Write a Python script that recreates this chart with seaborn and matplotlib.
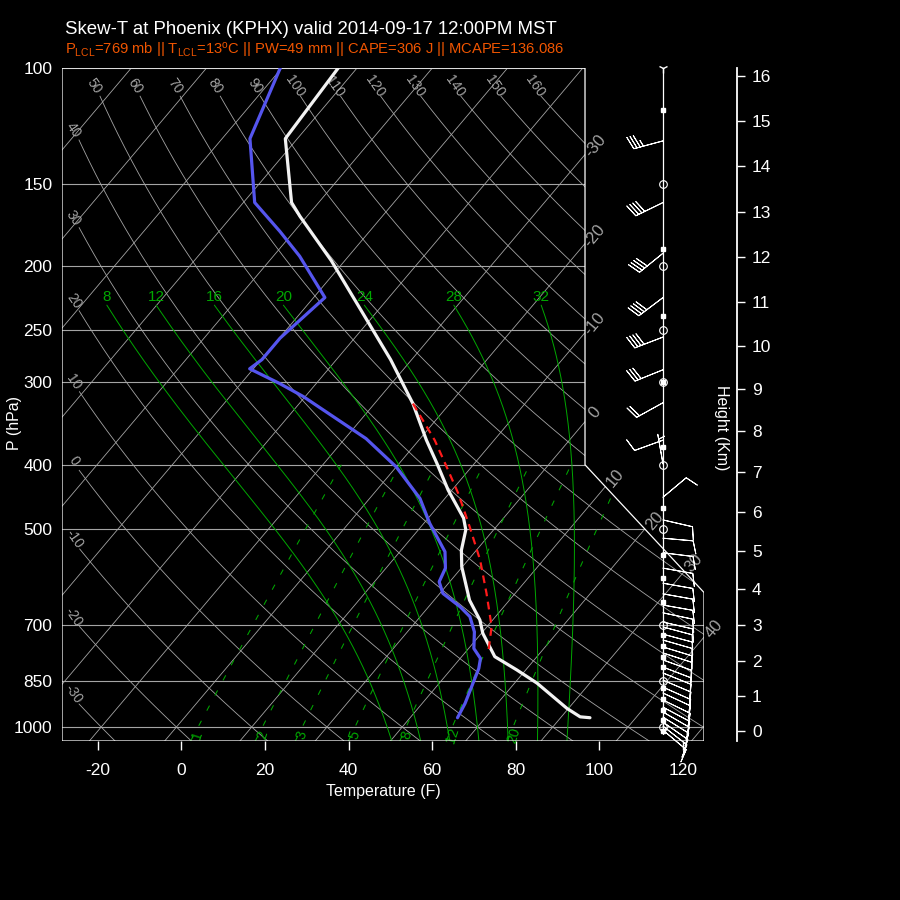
import numpy as np
import pandas as pd
import matplotlib
matplotlib.use("Agg")
import matplotlib.pyplot as plt
from matplotlib.patches import Polygon
from matplotlib.path import Path
from matplotlib.ticker import NullLocator
import seaborn as sns

# --- sounding (hPa / deg C) ---
temp_p = [100, 128, 160, 168, 196, 277, 323, 367, 398, 437, 482, 502, 539, 571,
          642, 688, 721, 782, 819, 858, 937, 965, 968]
temp_c = [-72.5, -71.6, -63.6, -60.9, -51.8, -32.8, -24.9, -19.0, -15.0, -10.5, -5.3,
          -3.7, -2.0, -0.1, 4.7, 8.3, 10.2, 14.4, 18.8, 23.0, 29.8, 32.5, 33.9]

dew_p = [100, 128, 160, 177, 193, 223, 257, 277, 286, 301, 315, 365, 403, 450, 491,
         542, 574, 602, 627, 657, 680, 717, 760, 787, 815, 869, 921, 968]
dew_c = [-80.2, -76.3, -68.5, -61.9, -56.5, -48.5, -49.9, -49.9, -50.5, -44.9, -40.3,
         -27.2, -20.0, -13.3, -9.2, -4.0, -2.1, -1.4, 0.4, 4.2, 6.6, 8.9, 10.7, 12.7,
         13.6, 14.7, 15.7, 16.3]

parcel_p = [323, 367, 403, 442, 497, 558, 627, 704, 769]
parcel_c = [-24.9, -17.9, -13.3, -8.8, -3.5, 1.6, 6.2, 10.6, 13.0]

# --- winds on the right-hand column (hPa, deg, kt) ---
wind_p = [129, 160, 191, 223, 256, 287, 322, 367, 399, 448, 485, 517, 544, 574, 605,
          628, 653, 671, 693, 705, 723, 738, 756, 772, 791, 811, 828, 849, 870, 888,
          910, 933, 949, 966, 983, 997, 1011]
wind_dir = [255, 244, 231, 233, 249, 248, 241, 250, 350, 50, 103, 95, 97, 100, 100,
            100, 100, 102, 103, 105, 105, 106, 107, 108, 110, 111, 112, 113, 114, 115,
            116, 118, 120, 122, 125, 128, 130]
wind_kt = [35, 40, 40, 40, 40, 30, 20, 10, 5, 10, 10, 10, 10, 10, 10, 10, 10, 10, 10,
           10, 10, 10, 10, 10, 10, 10, 10, 10, 10, 10, 10, 10, 10, 10, 10, 10, 10]

square_p = [116, 188, 238, 300, 376, 466, 548, 595, 645, 725, 754, 782, 811, 874, 908,
            942, 976, 1014]
circle_p = [150, 200, 250, 300, 400, 500, 700, 850, 1000]

# --- background lines and axes ---
pres_ticks = [100, 150, 200, 250, 300, 400, 500, 700, 850, 1000]
temp_ticks_f = [-20, 0, 20, 40, 60, 80, 100, 120]
height_km = list(range(0, 17))
isotherms_c = list(range(-100, 51, 10))
iso_label_c = list(range(-30, 41, 10))
dry_theta_c = list(range(-30, 161, 10))
moist_thw_c = [8, 12, 16, 20, 24, 28, 32]
mixing_gkg = [20, 12, 8, 5, 3, 2, 1]

title = "Skew-T at Phoenix (KPHX) valid 2014-09-17 12:00PM MST"
subtitle = (r"P$_{\mathregular{LCL}}$=769 mb || T$_{\mathregular{LCL}}$=13$^{\mathregular{o}}$C"
            r" || PW=49 mm || CAPE=306 J || MCAPE=136.086")

SKEW = 133.2          # deg F of shift per decade of pressure
P_BOT, P_TOP = 1050.0, 100.0
X_LEFT, X_RIGHT, X_CUT = -28.55, 125.0, 96.54
P_CUT_HI, P_CUT_LO = 400.0, 625.0
X_COL = 115.2

GREY = "#a4a4a4"
GREEN = "#00a800"


def c2f(c):
    return np.asarray(c, dtype=float) * 1.8 + 32


def skew(tf, p):
    return np.asarray(tf, dtype=float) + SKEW * np.log10(P_BOT / np.asarray(p, dtype=float))


def moist_rate(p, t):
    es = 6.112 * np.exp(17.67 * (t - 273.15) / (t - 29.65))
    rs = 0.622 * es / (p - es)
    return (287.04 * t + 2.501e6 * rs) / (1005.7 + 2.501e6 ** 2 * rs * 0.622 / (287.04 * t * t)) / p


def moist_curve(thw, p_end):
    def run(ps):
        t = thw + 273.15
        out = [t]
        for p0, p1 in zip(ps[:-1], ps[1:]):
            h = p1 - p0
            k1 = moist_rate(p0, t)
            k2 = moist_rate(p0 + h / 2, t + h * k1 / 2)
            k3 = moist_rate(p0 + h / 2, t + h * k2 / 2)
            k4 = moist_rate(p1, t + h * k3)
            t = t + h * (k1 + 2 * k2 + 2 * k3 + k4) / 6
            out.append(t)
        return np.array(out)
    up = np.geomspace(1000, p_end, 300)
    dn = np.geomspace(1000, P_BOT, 20)
    p = np.concatenate([dn[::-1], up[1:]])
    t = np.concatenate([run(dn)[::-1], run(up)[1:]])
    return p, t - 273.15


def mix_temp(r, p):
    e = r * p / (622.0 + r)
    a = np.log(e / 6.112)
    return 243.5 * a / (17.67 - a)


def std_pressure(h):
    h = np.asarray(h, dtype=float)
    lo = 1013.25 * (1 - 2.25577e-5 * h) ** 5.25588
    hi = 226.32 * np.exp(-(h - 11000) / 6341.62)
    return np.where(h <= 11000, lo, hi)


sns.set_theme(style="dark", rc={"axes.facecolor": "black", "figure.facecolor": "black"})
plt.rcParams["font.family"] = ["Liberation Sans", "DejaVu Sans"]
plt.rcParams["mathtext.default"] = "regular"
plt.rcParams["axes.grid"] = False

fig = plt.figure(figsize=(9, 9), dpi=100, facecolor="black")
ax = fig.add_axes([62 / 900, 1 - 741 / 900, 642 / 900, 673 / 900])
ax.set_facecolor("black")
ax.set_yscale("log")
ax.set_ylim(P_BOT, P_TOP)
ax.set_xlim(X_LEFT, X_RIGHT)
for s in ax.spines.values():
    s.set_visible(False)

box_verts = [(X_LEFT, P_BOT), (X_LEFT, P_TOP), (X_CUT, P_TOP), (X_CUT, P_CUT_HI),
             (X_RIGHT, P_CUT_LO), (X_RIGHT, P_BOT)]
box = Polygon(box_verts, closed=True, fill=False, edgecolor="white", lw=0.9,
              transform=ax.transData, zorder=6)
ax.add_patch(box)
box_path = Path([(x, np.log10(p)) for x, p in box_verts] + [(X_LEFT, np.log10(P_BOT))])


def clipped(line):
    line.set_clip_path(box)
    return line


# isobars
for p in pres_ticks:
    clipped(ax.plot([X_LEFT, X_RIGHT], [p, p], color=GREY, lw=0.8, zorder=1)[0])

# isotherms
ps_full = np.geomspace(P_BOT, P_TOP, 600)
for tc in isotherms_c:
    xs = skew(c2f(tc), ps_full)
    clipped(ax.plot(xs, ps_full, color=GREY, lw=0.6, zorder=1)[0])
for tc in iso_label_c:
    xs = skew(c2f(tc), ps_full)
    inside = box_path.contains_points(np.c_[xs, np.log10(ps_full)])
    i = np.where(inside)[0][-1]
    ax.annotate(f"{tc}", (xs[i], ps_full[i]), xytext=(7.5, 6.5), textcoords="offset points",
                ha="center", va="center", rotation=50, color=GREY, fontsize=12,
                annotation_clip=False)

# dry adiabats
for th in dry_theta_c:
    tk = (th + 273.15) * (ps_full / 1000) ** 0.2857 - 273.15
    xs = skew(c2f(tk), ps_full)
    keep = (ps_full >= 110) & (xs >= X_LEFT + 4)
    if not keep.any():
        continue
    xs, ps = xs[keep], ps_full[keep]
    clipped(ax.plot(xs, ps, color=GREY, lw=0.6, zorder=1)[0])
    ax.annotate(f"{th}", (xs[-1], ps[-1]), xytext=(-4, 7), textcoords="offset points",
                ha="center", va="center", rotation=-55, color=GREY, fontsize=10,
                annotation_clip=False)

# saturated adiabats
for thw in moist_thw_c:
    p, t = moist_curve(thw, 229)
    xs = skew(c2f(t), p)
    clipped(ax.plot(xs, p, color=GREEN, lw=0.7, zorder=2)[0])
    ax.annotate(f"{thw}", (xs[-1], p[-1]), xytext=(0, 6), textcoords="offset points",
                ha="center", va="center", color=GREEN, fontsize=11)

# mixing ratio lines
ps_mix = np.geomspace(P_BOT, 400, 200)
for r in mixing_gkg:
    xs = skew(c2f(mix_temp(r, ps_mix)), ps_mix)
    clipped(ax.plot(xs, ps_mix, color=GREEN, lw=0.75, dashes=(5.5, 11), zorder=2)[0])
    xl = skew(c2f(mix_temp(r, 1030)), 1030)
    ax.text(xl + 1.0, 1030, f"{r}", color=GREEN, fontsize=10, rotation=72,
            ha="center", va="center")

# sounding
snd_t = pd.DataFrame({"p": temp_p, "x": skew(c2f(temp_c), temp_p)})
snd_d = pd.DataFrame({"p": dew_p, "x": skew(c2f(dew_c), dew_p)})
snd_r = pd.DataFrame({"p": parcel_p, "x": skew(c2f(parcel_c), parcel_p)})
sns.lineplot(data=snd_d, x="x", y="p", sort=False, estimator=None, color="#5555ee",
             lw=2.3, ax=ax, zorder=7)
sns.lineplot(data=snd_t, x="x", y="p", sort=False, estimator=None, color="#f2f2f2",
             lw=2.3, ax=ax, zorder=8)
sns.lineplot(data=snd_r, x="x", y="p", sort=False, estimator=None, color="#ff1a1a",
             lw=1.6, dashes=False, ax=ax, zorder=9)
ax.lines[-1].set_dashes((3.5, 2.5))

# wind column
ax.plot([X_COL, X_COL], [P_TOP, 1025], color="white", lw=0.9, zorder=7, clip_on=False)
ax.plot(np.full(len(square_p), X_COL), square_p, ls="none", marker="s", ms=3,
        color="white", zorder=8, clip_on=False)
ax.plot(np.full(len(circle_p), X_COL), circle_p, ls="none", marker="o", ms=5.5,
        mfc="none", mec="white", mew=0.8, zorder=8, clip_on=False)
ax.plot([X_COL], [P_TOP], ls="none", marker="1", ms=7, color="white", clip_on=False)
wd = np.deg2rad(wind_dir)
u = -np.asarray(wind_kt) * np.sin(wd)
v = -np.asarray(wind_kt) * np.cos(wd)
ax.barbs(np.full(len(wind_p), X_COL), wind_p, u, v, length=6.6, color="white",
         linewidth=0.7, sizes=dict(spacing=0.11, height=0.42, width=0.25),
         zorder=8, clip_on=False)

# axes ticks and labels
ax.yaxis.set_minor_locator(NullLocator())
ax.set_yticks(pres_ticks, labels=[str(p) for p in pres_ticks])
ax.set_xticks(temp_ticks_f, labels=[str(t) for t in temp_ticks_f])
ax.tick_params(axis="y", length=0, pad=7, labelcolor="white", labelsize=12.5)
ax.tick_params(axis="x", bottom=True, length=6.5, width=1, color="white", pad=9,
               labelcolor="white", labelsize=12.5)
ax.set_xlabel("Temperature (F)", color="white", fontsize=11.5, labelpad=5)
ax.set_ylabel("")
fig.text(15 / 900, 1 - 423 / 900, "P (hPa)", color="white", fontsize=11.5,
         rotation=90, ha="center", va="center")

ax2 = ax.twinx()
ax2.set_yscale("log")
ax2.set_ylim(P_BOT, P_TOP)
ax2.yaxis.set_minor_locator(NullLocator())
ax2.set_yticks(std_pressure(np.array(height_km) * 1000.0), labels=[str(h) for h in height_km])
for s in ["left", "top", "bottom"]:
    ax2.spines[s].set_visible(False)
ax2.spines["right"].set_position(("outward", 24))
ax2.spines["right"].set_color("white")
ax2.spines["right"].set_linewidth(1.3)
ax2.tick_params(axis="y", right=True, length=5.5, width=1, color="white", pad=5,
                labelcolor="white", labelsize=12.5)
ax2.grid(False)
fig.text(722 / 900, 1 - 428 / 900, "Height (Km)", color="white", fontsize=11.5,
         rotation=270, ha="center", va="center")

fig.text(65 / 900, 1 - 30 / 900, title, color="white", fontsize=13.4, ha="left", va="center")
fig.text(65 / 900, 1 - 50 / 900, subtitle, color="#f05500", fontsize=10.6, ha="left",
         va="center")

fig.savefig("out.png", dpi=100, facecolor="black")
